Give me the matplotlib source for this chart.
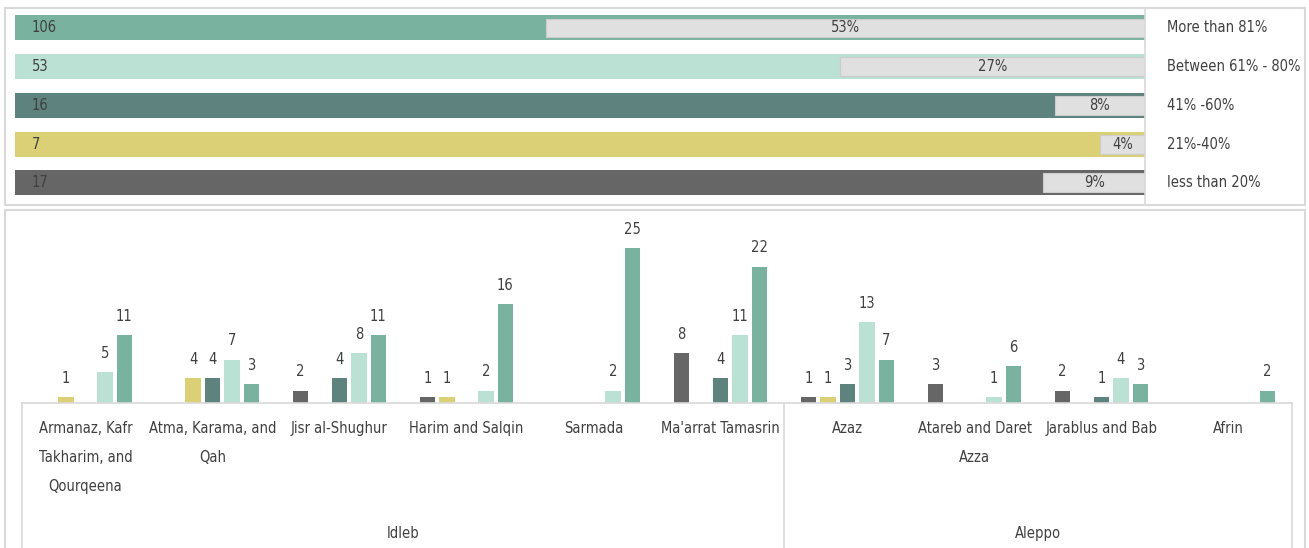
import numpy as np
import matplotlib
matplotlib.use("Agg")
import matplotlib.pyplot as plt
from matplotlib.patches import Rectangle

plt.rcParams['font.family'] = ['DejaVu Sans']
plt.rcParams['font.stretch'] = 'condensed'

# dane - panel gorny
levels = ["More than 81%", "Between 61% - 80%", "41% -60%", "21%-40%", "less than 20%"]
counts = [106, 53, 16, 7, 17]
percents = [53, 27, 8, 4, 9]

# dane - panel dolny
districts = ["Armanaz, Kafr\nTakharim, and\nQourqeena", "Atma, Karama, and\nQah", "Jisr al-Shughur",
             "Harim and Salqin", "Sarmada", "Ma'arrat Tamasrin", "Azaz", "Atareb and Daret\nAzza",
             "Jarablus and Bab", "Afrin"]
governorates = ["Idleb", "Aleppo"]
gov_sizes = [6, 4]
less20 = [0, 0, 2, 1, 0, 8, 1, 3, 2, 0]
p21_40 = [1, 4, 0, 1, 0, 0, 1, 0, 0, 0]
p41_60 = [0, 4, 4, 0, 0, 4, 3, 0, 1, 0]
p61_80 = [5, 7, 8, 2, 2, 11, 13, 1, 4, 0]
more81 = [11, 3, 11, 16, 25, 22, 7, 6, 3, 2]

colors = ["#79b39f", "#bae1d3", "#5e827e", "#dcd077", "#666666"]  # kolejnosc jak w panelu gornym
txt = "#404040"
frame = "#d9d9d9"
fs = 10.5

W, H = 1309, 548
fig = plt.figure(figsize=(W / 100, H / 100), dpi=100)

# ramki obu paneli
fig.patches.append(Rectangle((5 / W, 1 - 205 / H), 1300 / W, 197 / H, transform=fig.transFigure,
                             fill=False, edgecolor=frame, linewidth=1.5))
fig.patches.append(Rectangle((5 / W, -0.05), 1300 / W, 1 - 210 / H + 0.05, transform=fig.transFigure,
                             fill=False, edgecolor=frame, linewidth=1.5))

# --- panel gorny ---
ax1 = fig.add_axes([15 / W, 1 - 205 / H, 1130 / W, 197 / H])
y = np.arange(len(levels))
ax1.barh(y, [100] * len(levels), height=0.645, color=colors, left=0)
ax1.barh(y, percents, left=[100 - p for p in percents], height=0.49, color="#e0e0e0",
         edgecolor="#cccccc", linewidth=0.8)
for i in range(len(levels)):
    ax1.text(1.5, y[i], str(counts[i]), ha="left", va="center", fontsize=fs, color=txt)
    ax1.text(100 - percents[i] / 2, y[i], f"{percents[i]}%", ha="center", va="center", fontsize=fs, color=txt)
    ax1.text(1.0195, y[i], levels[i], transform=ax1.get_yaxis_transform(), ha="left", va="center",
             fontsize=fs, color=txt)
ax1.set_xlim(0, 100)
ax1.set_ylim(4.568, -0.516)
ax1.set_xticks([])
ax1.set_yticks([])
for s in ["top", "left", "bottom"]:
    ax1.spines[s].set_visible(False)
ax1.spines["right"].set_color(frame)
ax1.spines["right"].set_linewidth(1.2)

# --- panel dolny ---
ax2 = fig.add_axes([22 / W, (H - 403) / H, 1270 / W, 186 / H])
x = np.arange(len(districts))
series = [less20, p21_40, p41_60, p61_80, more81]
scol = [colors[4], colors[3], colors[2], colors[1], colors[0]]
slot = 0.153
bw = 0.122
for k, vals in enumerate(series):
    xs = x + (k - 2) * slot
    ax2.bar(xs, vals, width=bw, color=scol[k])
    for xi, v in zip(xs, vals):
        if v > 0:
            ax2.annotate(str(v), (xi, v), xytext=(0, 13.5), textcoords="offset points",
                         ha="center", va="center", fontsize=fs, color=txt)
ax2.set_xlim(-0.5, 9.5)
ax2.set_ylim(0, 30)
ax2.set_xticks([])
ax2.set_yticks([])
for s in ["top", "left", "right"]:
    ax2.spines[s].set_visible(False)
ax2.spines["bottom"].set_color(frame)
ax2.spines["bottom"].set_linewidth(1.2)

tr = ax2.get_xaxis_transform()
for i, name in enumerate(districts):
    ax2.text(x[i], -0.097, name, transform=tr, ha="center", va="top", fontsize=fs, color=txt,
             linespacing=2.15)

start = -0.5
for g, n in zip(governorates, gov_sizes):
    ax2.plot([start, start], [0, -0.85], transform=tr, color=frame, linewidth=1.2, clip_on=False)
    ax2.text(start + n / 2, -0.70, g, transform=tr, ha="center", va="center", fontsize=fs, color=txt)
    start += n
ax2.plot([start, start], [0, -0.85], transform=tr, color=frame, linewidth=1.2, clip_on=False)

fig.savefig("out.png", dpi=100)
